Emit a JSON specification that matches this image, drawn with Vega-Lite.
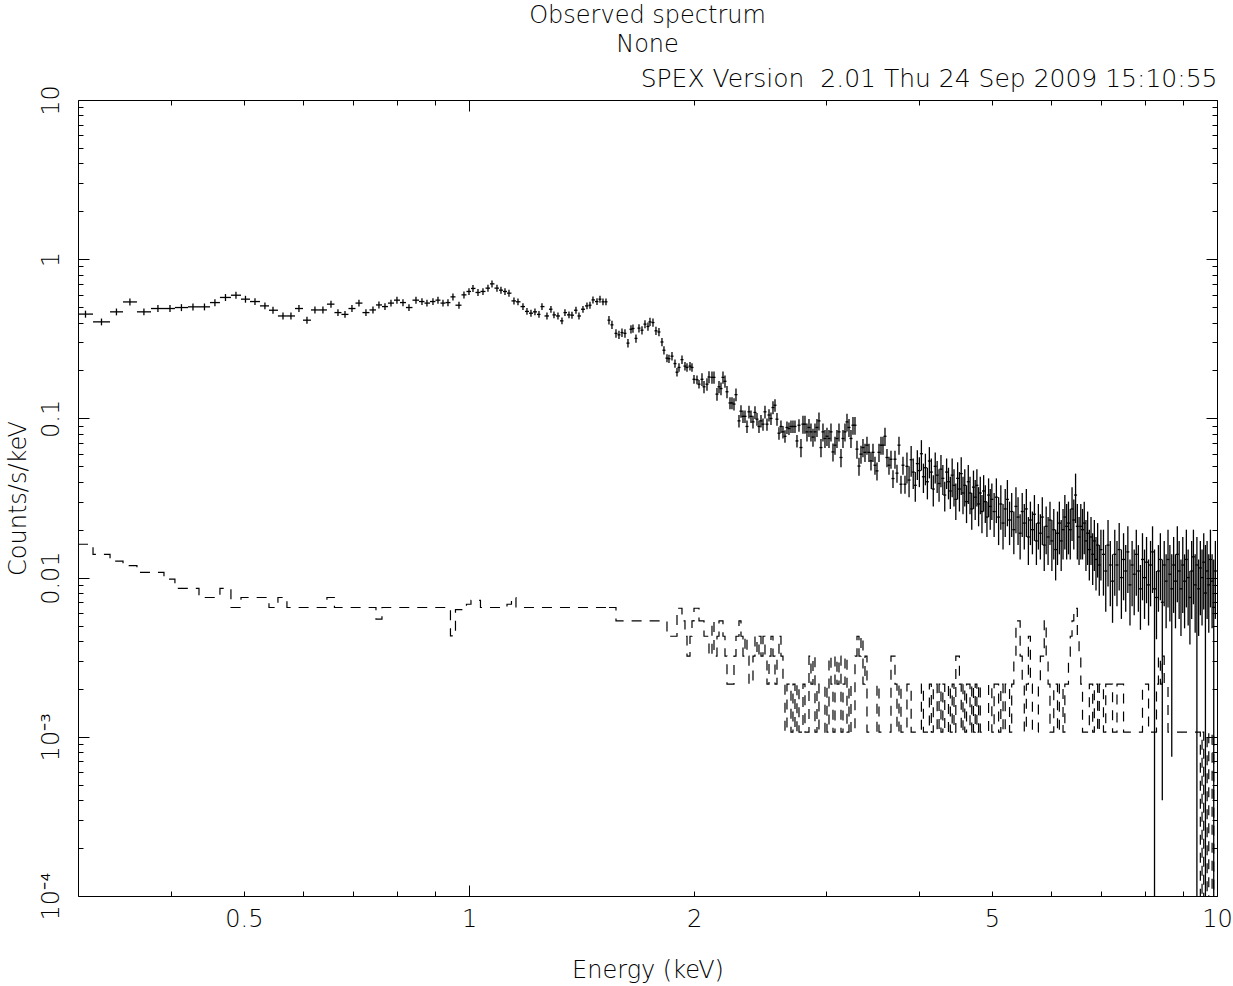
{
"$schema":"https://vega.github.io/schema/vega-lite/v6.json",
"width":1139,"height":796,
"autosize":{"type":"none"},
"padding":{"left":78,"top":100,"right":16,"bottom":90},
"background":"white",
"title":{"text":["Observed spectrum","None"],"anchor":"middle","font":"DejaVu Sans","fontSize":24,"fontWeight":200,"color":"black","lineHeight":29,"offset":10},
"datasets":{
"wide":[
{"e":0.307,"e0":0.3,"e1":0.3142,"c":0.452,"l":0.429,"h":0.475},
{"e":0.3225,"e0":0.3142,"e1":0.3311,"c":0.404,"l":0.384,"h":0.424},
{"e":0.3377,"e0":0.3311,"e1":0.3446,"c":0.467,"l":0.444,"h":0.49},
{"e":0.352,"e0":0.3446,"e1":0.3597,"c":0.539,"l":0.512,"h":0.566},
{"e":0.3675,"e0":0.3597,"e1":0.3756,"c":0.467,"l":0.444,"h":0.49},
{"e":0.3837,"e0":0.3756,"e1":0.3909,"c":0.49,"l":0.466,"h":0.515},
{"e":0.3982,"e0":0.3909,"e1":0.4043,"c":0.49,"l":0.466,"h":0.515},
{"e":0.4125,"e0":0.4043,"e1":0.4209,"c":0.497,"l":0.472,"h":0.522},
{"e":0.4274,"e0":0.4209,"e1":0.4354,"c":0.502,"l":0.477,"h":0.527},
{"e":0.4428,"e0":0.4354,"e1":0.4504,"c":0.502,"l":0.477,"h":0.527},
{"e":0.4573,"e0":0.4504,"e1":0.4644,"c":0.534,"l":0.507,"h":0.561},
{"e":0.4724,"e0":0.4644,"e1":0.4804,"c":0.575,"l":0.546,"h":0.604},
{"e":0.4879,"e0":0.4804,"e1":0.4955,"c":0.594,"l":0.564,"h":0.624},
{"e":0.5024,"e0":0.4955,"e1":0.5094,"c":0.561,"l":0.533,"h":0.589},
{"e":0.5173,"e0":0.5094,"e1":0.5253,"c":0.542,"l":0.515,"h":0.569},
{"e":0.5334,"e0":0.5253,"e1":0.5401,"c":0.509,"l":0.484,"h":0.534},
{"e":0.5468,"e0":0.5401,"e1":0.5552,"c":0.478,"l":0.454,"h":0.502},
{"e":0.5639,"e0":0.5552,"e1":0.5708,"c":0.44,"l":0.418,"h":0.462},
{"e":0.5779,"e0":0.5708,"e1":0.5851,"c":0.44,"l":0.418,"h":0.462},
{"e":0.5923,"e0":0.5851,"e1":0.5997,"c":0.49,"l":0.466,"h":0.515},
{"e":0.6071,"e0":0.5997,"e1":0.6146,"c":0.414,"l":0.393,"h":0.435},
{"e":0.6222,"e0":0.6146,"e1":0.6299,"c":0.48,"l":0.456,"h":0.504},
{"e":0.6377,"e0":0.6299,"e1":0.6456,"c":0.48,"l":0.456,"h":0.504},
{"e":0.6537,"e0":0.6456,"e1":0.6607,"c":0.522,"l":0.496,"h":0.548},
{"e":0.6679,"e0":0.6607,"e1":0.6751,"c":0.462,"l":0.439,"h":0.485},
{"e":0.6825,"e0":0.6751,"e1":0.6898,"c":0.45,"l":0.428,"h":0.473},
{"e":0.6973,"e0":0.6898,"e1":0.7049,"c":0.49,"l":0.466,"h":0.515},
{"e":0.7125,"e0":0.7049,"e1":0.7202,"c":0.53,"l":0.504,"h":0.557},
{"e":0.728,"e0":0.7202,"e1":0.7359,"c":0.462,"l":0.439,"h":0.485},
{"e":0.7439,"e0":0.7359,"e1":0.7508,"c":0.48,"l":0.456,"h":0.504},
{"e":0.7577,"e0":0.7508,"e1":0.7648,"c":0.516,"l":0.49,"h":0.542},
{"e":0.7719,"e0":0.7648,"e1":0.779,"c":0.504,"l":0.479,"h":0.529},
{"e":0.7863,"e0":0.779,"e1":0.7936,"c":0.53,"l":0.504,"h":0.557},
{"e":0.8009,"e0":0.7936,"e1":0.8084,"c":0.553,"l":0.525,"h":0.581},
{"e":0.8159,"e0":0.8084,"e1":0.8234,"c":0.534,"l":0.507,"h":0.561},
{"e":0.8311,"e0":0.8234,"e1":0.8401,"c":0.497,"l":0.472,"h":0.522},
{"e":0.8492,"e0":0.8401,"e1":0.8571,"c":0.553,"l":0.525,"h":0.581},
{"e":0.865,"e0":0.8571,"e1":0.8717,"c":0.542,"l":0.515,"h":0.569},
{"e":0.8784,"e0":0.8717,"e1":0.8866,"c":0.53,"l":0.504,"h":0.557},
{"e":0.8948,"e0":0.8866,"e1":0.9017,"c":0.542,"l":0.515,"h":0.569},
{"e":0.9087,"e0":0.9017,"e1":0.9157,"c":0.553,"l":0.525,"h":0.581},
{"e":0.9228,"e0":0.9157,"e1":0.9299,"c":0.53,"l":0.504,"h":0.557},
{"e":0.9371,"e0":0.9299,"e1":0.9443,"c":0.534,"l":0.507,"h":0.561},
{"e":0.9516,"e0":0.9443,"e1":0.959,"c":0.58,"l":0.551,"h":0.609},
{"e":0.9694,"e0":0.959,"e1":0.9769,"c":0.514,"l":0.488,"h":0.54},
{"e":0.9844,"e0":0.9769,"e1":0.992,"c":0.597,"l":0.567,"h":0.627},
{"e":0.9997,"e0":0.992,"e1":1.0059,"c":0.627,"l":0.596,"h":0.658},
{"e":1.0121,"e0":1.0059,"e1":1.0199,"c":0.655,"l":0.622,"h":0.688},
{"e":1.0278,"e0":1.0199,"e1":1.0357,"c":0.618,"l":0.587,"h":0.649},
{"e":1.0437,"e0":1.0357,"e1":1.0518,"c":0.627,"l":0.596,"h":0.658},
{"e":1.0599,"e0":1.0518,"e1":1.0665,"c":0.658,"l":0.625,"h":0.691},
{"e":1.0731,"e0":1.0665,"e1":1.0813,"c":0.7,"l":0.665,"h":0.735},
{"e":1.0897,"e0":1.0813,"e1":1.0964,"c":0.658,"l":0.625,"h":0.691},
{"e":1.1032,"e0":1.0964,"e1":1.11,"c":0.639,"l":0.607,"h":0.671},
{"e":1.1169,"e0":1.11,"e1":1.1238,"c":0.627,"l":0.596,"h":0.658},
{"e":1.1307,"e0":1.1238,"e1":1.1394,"c":0.612,"l":0.581,"h":0.643},
{"e":1.1482,"e0":1.1394,"e1":1.1553,"c":0.547,"l":0.52,"h":0.574},
{"e":1.1625,"e0":1.1553,"e1":1.1715,"c":0.54,"l":0.513,"h":0.567},
{"e":1.1805,"e0":1.1715,"e1":1.1878,"c":0.504,"l":0.479,"h":0.529},
{"e":1.1951,"e0":1.1878,"e1":1.2025,"c":0.47,"l":0.447,"h":0.494},
{"e":1.2099,"e0":1.2025,"e1":1.2174,"c":0.458,"l":0.435,"h":0.481},
{"e":1.2249,"e0":1.2174,"e1":1.2325,"c":0.467,"l":0.444,"h":0.49},
{"e":1.2401,"e0":1.2325,"e1":1.2458,"c":0.45,"l":0.428,"h":0.473},
{"e":1.2516,"e0":1.2458,"e1":1.2613,"c":0.504,"l":0.479,"h":0.529},
{"e":1.271,"e0":1.2613,"e1":1.2788,"c":0.44,"l":0.418,"h":0.462},
{"e":1.2867,"e0":1.2788,"e1":1.2927,"c":0.485,"l":0.461,"h":0.509},
{"e":1.2987,"e0":1.2927,"e1":1.3067,"c":0.447,"l":0.425,"h":0.469},
{"e":1.3148,"e0":1.3067,"e1":1.3229,"c":0.44,"l":0.418,"h":0.462},
{"e":1.3311,"e0":1.3229,"e1":1.3372,"c":0.41,"l":0.39,"h":0.431},
{"e":1.3434,"e0":1.3372,"e1":1.3517,"c":0.462,"l":0.439,"h":0.485},
{"e":1.3601,"e0":1.3517,"e1":1.3664,"c":0.447,"l":0.425,"h":0.469},
{"e":1.3727,"e0":1.3664,"e1":1.3812,"c":0.445,"l":0.423,"h":0.467},
{"e":1.3897,"e0":1.3812,"e1":1.3961,"c":0.478,"l":0.454,"h":0.502},
{"e":1.4026,"e0":1.3961,"e1":1.4113,"c":0.44,"l":0.418,"h":0.462},
{"e":1.42,"e0":1.4113,"e1":1.4288,"c":0.485,"l":0.461,"h":0.509},
{"e":1.4376,"e0":1.4288,"e1":1.4443,"c":0.509,"l":0.484,"h":0.534},
{"e":1.4509,"e0":1.4443,"e1":1.4577,"c":0.514,"l":0.488,"h":0.54},
{"e":1.4644,"e0":1.4577,"e1":1.4735,"c":0.555,"l":0.527,"h":0.583},
{"e":1.4826,"e0":1.4735,"e1":1.4894,"c":0.542,"l":0.515,"h":0.569},
{"e":1.4963,"e0":1.4894,"e1":1.5032,"c":0.561,"l":0.533,"h":0.589},
{"e":1.5102,"e0":1.5032,"e1":1.5172,"c":0.54,"l":0.513,"h":0.567},
{"e":1.5242,"e0":1.5172,"e1":1.5313,"c":0.54,"l":0.513,"h":0.567}
],
"bkg1":[
{"e":0.3,"b":0.0162},{"e":0.3142,"b":0.014},{"e":0.3311,"b":0.0127},{"e":0.3446,"b":0.0119},{"e":0.3597,"b":0.0108},{"e":0.3909,"b":0.00977},{"e":0.4043,"b":0.00855},{"e":0.4354,"b":0.0075},{"e":0.4644,"b":0.00855},{"e":0.4804,"b":0.00649},{"e":0.4955,"b":0.0075},{"e":0.5401,"b":0.00649},{"e":0.5552,"b":0.0075},{"e":0.5708,"b":0.00649},{"e":0.6456,"b":0.0075},{"e":0.6607,"b":0.00649},{"e":0.7508,"b":0.00548},{"e":0.7648,"b":0.00649},{"e":0.9443,"b":0.0043},{"e":0.959,"b":0.0063},{"e":0.992,"b":0.0068},{"e":1.0059,"b":0.0072},{"e":1.0357,"b":0.00649},{"e":1.1238,"b":0.0068},{"e":1.1394,"b":0.0075},{"e":1.1553,"b":0.00649},{"e":1.5383,"b":0.00649}
],
"narrow":[
{"e":1.5383,"c":0.414,"l":0.389,"h":0.439,"b":0.00649},
{"e":1.5526,"c":0.387,"l":0.364,"h":0.41,"b":0.00649},
{"e":1.5719,"c":0.342,"l":0.321,"h":0.363,"b":0.00535},
{"e":1.5864,"c":0.335,"l":0.315,"h":0.355,"b":0.00535},
{"e":1.6012,"c":0.346,"l":0.325,"h":0.367,"b":0.00535},
{"e":1.616,"c":0.342,"l":0.321,"h":0.363,"b":0.00535},
{"e":1.631,"c":0.297,"l":0.279,"h":0.315,"b":0.00535},
{"e":1.6461,"c":0.363,"l":0.341,"h":0.385,"b":0.00535},
{"e":1.6563,"c":0.367,"l":0.345,"h":0.389,"b":0.00535},
{"e":1.6717,"c":0.318,"l":0.299,"h":0.337,"b":0.00535},
{"e":1.6872,"c":0.369,"l":0.347,"h":0.391,"b":0.00535},
{"e":1.7029,"c":0.358,"l":0.337,"h":0.379,"b":0.00535},
{"e":1.7187,"c":0.391,"l":0.368,"h":0.414,"b":0.00535},
{"e":1.7346,"c":0.378,"l":0.355,"h":0.401,"b":0.00535},
{"e":1.7453,"c":0.404,"l":0.38,"h":0.428,"b":0.00535},
{"e":1.7615,"c":0.4,"l":0.376,"h":0.424,"b":0.00535},
{"e":1.7778,"c":0.355,"l":0.334,"h":0.376,"b":0.00535},
{"e":1.7943,"c":0.349,"l":0.328,"h":0.37,"b":0.00535},
{"e":1.811,"c":0.302,"l":0.284,"h":0.32,"b":0.00535},
{"e":1.8221,"c":0.268,"l":0.252,"h":0.284,"b":0.00535},
{"e":1.8391,"c":0.239,"l":0.225,"h":0.253,"b":0.00428},
{"e":1.8504,"c":0.237,"l":0.223,"h":0.251,"b":0.00428},
{"e":1.8677,"c":0.246,"l":0.231,"h":0.261,"b":0.00428},
{"e":1.885,"c":0.221,"l":0.208,"h":0.234,"b":0.00428},
{"e":1.8967,"c":0.195,"l":0.183,"h":0.207,"b":0.00642},
{"e":1.9084,"c":0.209,"l":0.196,"h":0.222,"b":0.00642},
{"e":1.9261,"c":0.234,"l":0.22,"h":0.248,"b":0.00535},
{"e":1.9439,"c":0.213,"l":0.2,"h":0.226,"b":0.00428},
{"e":1.956,"c":0.209,"l":0.196,"h":0.222,"b":0.00321},
{"e":1.9741,"c":0.213,"l":0.2,"h":0.226,"b":0.00428},
{"e":1.9863,"c":0.209,"l":0.196,"h":0.222,"b":0.00535},
{"e":1.9986,"c":0.176,"l":0.165,"h":0.187,"b":0.00642},
{"e":2.0171,"c":0.175,"l":0.164,"h":0.186,"b":0.00642},
{"e":2.0296,"c":0.164,"l":0.154,"h":0.174,"b":0.00535},
{"e":2.0484,"c":0.176,"l":0.16,"h":0.192,"b":0.00535},
{"e":2.0611,"c":0.158,"l":0.144,"h":0.172,"b":0.00428},
{"e":2.0802,"c":0.164,"l":0.149,"h":0.179,"b":0.00428},
{"e":2.093,"c":0.182,"l":0.166,"h":0.198,"b":0.00321},
{"e":2.1124,"c":0.181,"l":0.165,"h":0.197,"b":0.00535},
{"e":2.1255,"c":0.181,"l":0.165,"h":0.197,"b":0.00321},
{"e":2.1452,"c":0.142,"l":0.129,"h":0.155,"b":0.00428},
{"e":2.1585,"c":0.158,"l":0.144,"h":0.172,"b":0.00535},
{"e":2.1718,"c":0.154,"l":0.14,"h":0.168,"b":0.00535},
{"e":2.1852,"c":0.181,"l":0.165,"h":0.197,"b":0.00428},
{"e":2.1987,"c":0.171,"l":0.156,"h":0.186,"b":0.00321},
{"e":2.2123,"c":0.147,"l":0.134,"h":0.16,"b":0.00214},
{"e":2.2328,"c":0.125,"l":0.114,"h":0.136,"b":0.00214},
{"e":2.2466,"c":0.125,"l":0.114,"h":0.136,"b":0.00214},
{"e":2.2605,"c":0.123,"l":0.112,"h":0.134,"b":0.00321},
{"e":2.2744,"c":0.141,"l":0.128,"h":0.154,"b":0.00428},
{"e":2.2955,"c":0.0965,"l":0.0878,"h":0.105,"b":0.00535},
{"e":2.3097,"c":0.111,"l":0.101,"h":0.121,"b":0.00428},
{"e":2.324,"c":0.103,"l":0.0937,"h":0.112,"b":0.00321},
{"e":2.3384,"c":0.103,"l":0.0937,"h":0.112,"b":0.00428},
{"e":2.3528,"c":0.089,"l":0.081,"h":0.097,"b":0.00321},
{"e":2.3673,"c":0.11,"l":0.1,"h":0.12,"b":0.00214},
{"e":2.3819,"c":0.103,"l":0.0937,"h":0.112,"b":0.00214},
{"e":2.3966,"c":0.0951,"l":0.0865,"h":0.104,"b":0.00321},
{"e":2.4114,"c":0.109,"l":0.0992,"h":0.119,"b":0.00428},
{"e":2.4263,"c":0.0989,"l":0.09,"h":0.108,"b":0.00321},
{"e":2.4413,"c":0.089,"l":0.081,"h":0.097,"b":0.00428},
{"e":2.4564,"c":0.0965,"l":0.0878,"h":0.105,"b":0.00321},
{"e":2.4716,"c":0.092,"l":0.0837,"h":0.1,"b":0.00428},
{"e":2.4868,"c":0.11,"l":0.1,"h":0.12,"b":0.00321},
{"e":2.5022,"c":0.092,"l":0.0837,"h":0.1,"b":0.00214},
{"e":2.5177,"c":0.105,"l":0.0956,"h":0.114,"b":0.00321},
{"e":2.5332,"c":0.0999,"l":0.0909,"h":0.109,"b":0.00428},
{"e":2.5488,"c":0.117,"l":0.106,"h":0.128,"b":0.00321},
{"e":2.5646,"c":0.121,"l":0.11,"h":0.132,"b":0.00214},
{"e":2.5804,"c":0.0989,"l":0.09,"h":0.108,"b":0.00321},
{"e":2.5963,"c":0.0807,"l":0.0734,"h":0.088,"b":0.00428},
{"e":2.6123,"c":0.089,"l":0.081,"h":0.097,"b":0.00321},
{"e":2.6284,"c":0.0823,"l":0.0749,"h":0.0897,"b":0.00214},
{"e":2.6447,"c":0.0772,"l":0.0703,"h":0.0841,"b":0.00107},
{"e":2.661,"c":0.0877,"l":0.0798,"h":0.0956,"b":0.00214},
{"e":2.6774,"c":0.0864,"l":0.0786,"h":0.0942,"b":0.00214},
{"e":2.694,"c":0.089,"l":0.081,"h":0.097,"b":0.00107},
{"e":2.7106,"c":0.089,"l":0.081,"h":0.097,"b":0.00214},
{"e":2.7274,"c":0.089,"l":0.081,"h":0.097,"b":0.00107},
{"e":2.7442,"c":0.0722,"l":0.0657,"h":0.0787,"b":0.00214},
{"e":2.7612,"c":0.0906,"l":0.0824,"h":0.0988,"b":0.00107},
{"e":2.7782,"c":0.0656,"l":0.0571,"h":0.0741,"b":0.00107},
{"e":2.7954,"c":0.092,"l":0.08,"h":0.104,"b":0.00214},
{"e":2.8126,"c":0.092,"l":0.08,"h":0.104,"b":0.00107},
{"e":2.83,"c":0.0823,"l":0.0716,"h":0.093,"b":0.00107},
{"e":2.8475,"c":0.0877,"l":0.0763,"h":0.0991,"b":0.00321},
{"e":2.865,"c":0.0823,"l":0.0716,"h":0.093,"b":0.00214},
{"e":2.8828,"c":0.0763,"l":0.0664,"h":0.0862,"b":0.00321},
{"e":2.9006,"c":0.0823,"l":0.0716,"h":0.093,"b":0.00107},
{"e":2.9185,"c":0.0877,"l":0.0763,"h":0.0991,"b":0.00214},
{"e":2.9365,"c":0.0965,"l":0.084,"h":0.109,"b":0.00107},
{"e":2.9546,"c":0.0656,"l":0.0571,"h":0.0741,"b":0.00107},
{"e":2.9729,"c":0.0823,"l":0.0716,"h":0.093,"b":0.00107},
{"e":2.9912,"c":0.0748,"l":0.0651,"h":0.0845,"b":0.00214},
{"e":3.0097,"c":0.0772,"l":0.0672,"h":0.0872,"b":0.00107},
{"e":3.0284,"c":0.0748,"l":0.0651,"h":0.0845,"b":0.00321},
{"e":3.0471,"c":0.0823,"l":0.0716,"h":0.093,"b":0.00214},
{"e":3.0659,"c":0.0616,"l":0.0536,"h":0.0696,"b":0.00107},
{"e":3.0849,"c":0.0679,"l":0.0591,"h":0.0767,"b":0.00321},
{"e":3.1039,"c":0.0748,"l":0.0651,"h":0.0845,"b":0.00214},
{"e":3.1231,"c":0.0823,"l":0.0716,"h":0.093,"b":0.00321},
{"e":3.1424,"c":0.0568,"l":0.0494,"h":0.0642,"b":0.00107},
{"e":3.1618,"c":0.0748,"l":0.0651,"h":0.0845,"b":0.00214},
{"e":3.1814,"c":0.0823,"l":0.0716,"h":0.093,"b":0.00321},
{"e":3.201,"c":0.0951,"l":0.0827,"h":0.107,"b":0.00107},
{"e":3.2208,"c":0.0877,"l":0.0763,"h":0.0991,"b":0.00214},
{"e":3.2406,"c":0.0748,"l":0.0651,"h":0.0845,"b":0.00107},
{"e":3.2606,"c":0.0906,"l":0.0788,"h":0.102,"b":0.00107},
{"e":3.2808,"c":0.0906,"l":0.0788,"h":0.102,"b":0.00321},
{"e":3.301,"c":0.0641,"l":0.0558,"h":0.0724,"b":0.00428},
{"e":3.3214,"c":0.0502,"l":0.0437,"h":0.0567,"b":0.00321},
{"e":3.3419,"c":0.0596,"l":0.0519,"h":0.0673,"b":0.00428},
{"e":3.3625,"c":0.0656,"l":0.0571,"h":0.0741,"b":0.00214},
{"e":3.3833,"c":0.0612,"l":0.0532,"h":0.0692,"b":0.00321},
{"e":3.4042,"c":0.0679,"l":0.0591,"h":0.0767,"b":0.00107},
{"e":3.4253,"c":0.0612,"l":0.0532,"h":0.0692,"b":0.00107},
{"e":3.4464,"c":0.0541,"l":0.0471,"h":0.0611,"b":0.00107},
{"e":3.4677,"c":0.0612,"l":0.0532,"h":0.0692,"b":0.00107},
{"e":3.4891,"c":0.0508,"l":0.0442,"h":0.0574,"b":0.00107},
{"e":3.5107,"c":0.0468,"l":0.0407,"h":0.0529,"b":0.00214},
{"e":3.5324,"c":0.0612,"l":0.0532,"h":0.0692,"b":0.00107},
{"e":3.5542,"c":0.0679,"l":0.0591,"h":0.0767,"b":0.00107},
{"e":3.5761,"c":0.0679,"l":0.0591,"h":0.0767,"b":0.00107},
{"e":3.5982,"c":0.0772,"l":0.0672,"h":0.0872,"b":0.00107},
{"e":3.6204,"c":0.0568,"l":0.0494,"h":0.0642,"b":0.00107},
{"e":3.6428,"c":0.0508,"l":0.0442,"h":0.0574,"b":0.00107},
{"e":3.6653,"c":0.0554,"l":0.0482,"h":0.0626,"b":0.00321},
{"e":3.6879,"c":0.0419,"l":0.0365,"h":0.0473,"b":0.00321},
{"e":3.7107,"c":0.0554,"l":0.0482,"h":0.0626,"b":0.00214},
{"e":3.7336,"c":0.0453,"l":0.0394,"h":0.0512,"b":0.00107},
{"e":3.7567,"c":0.0679,"l":0.0591,"h":0.0767,"b":0.00214},
{"e":3.7799,"c":0.0386,"l":0.0336,"h":0.0436,"b":0.00107},
{"e":3.8032,"c":0.0508,"l":0.0442,"h":0.0574,"b":0.00107},
{"e":3.8267,"c":0.0386,"l":0.0336,"h":0.0436,"b":0.00107},
{"e":3.85,"c":0.05,"l":0.039,"h":0.061,"b":0.00214},
{"e":3.875,"c":0.041,"l":0.032,"h":0.05,"b":0.00214},
{"e":3.9,"c":0.055,"l":0.043,"h":0.067,"b":0.00107},
{"e":3.925,"c":0.046,"l":0.036,"h":0.056,"b":0.00107},
{"e":3.95,"c":0.038,"l":0.03,"h":0.046,"b":0.00107},
{"e":3.975,"c":0.052,"l":0.041,"h":0.063,"b":0.00107},
{"e":4.0,"c":0.047,"l":0.037,"h":0.057,"b":0.00107},
{"e":4.025,"c":0.06,"l":0.047,"h":0.073,"b":0.00214},
{"e":4.05,"c":0.043,"l":0.034,"h":0.052,"b":0.00107},
{"e":4.075,"c":0.049,"l":0.038,"h":0.06,"b":0.00107},
{"e":4.1,"c":0.04,"l":0.031,"h":0.049,"b":0.00107},
{"e":4.125,"c":0.054,"l":0.042,"h":0.066,"b":0.00214},
{"e":4.15,"c":0.046,"l":0.036,"h":0.056,"b":0.00107},
{"e":4.175,"c":0.036,"l":0.028,"h":0.044,"b":0.00214},
{"e":4.2,"c":0.05,"l":0.039,"h":0.061,"b":0.00214},
{"e":4.225,"c":0.044,"l":0.034,"h":0.054,"b":0.00107},
{"e":4.25,"c":0.039,"l":0.03,"h":0.048,"b":0.00214},
{"e":4.275,"c":0.048,"l":0.037,"h":0.059,"b":0.00107},
{"e":4.3,"c":0.042,"l":0.033,"h":0.051,"b":0.00214},
{"e":4.325,"c":0.033,"l":0.026,"h":0.04,"b":0.00107},
{"e":4.35,"c":0.046,"l":0.036,"h":0.056,"b":0.00107},
{"e":4.375,"c":0.04,"l":0.031,"h":0.049,"b":0.00214},
{"e":4.4,"c":0.035,"l":0.027,"h":0.043,"b":0.00107},
{"e":4.425,"c":0.044,"l":0.032,"h":0.056,"b":0.00214},
{"e":4.45,"c":0.038,"l":0.028,"h":0.048,"b":0.00107},
{"e":4.475,"c":0.031,"l":0.023,"h":0.039,"b":0.00321},
{"e":4.5,"c":0.042,"l":0.031,"h":0.053,"b":0.00321},
{"e":4.525,"c":0.036,"l":0.026,"h":0.046,"b":0.00214},
{"e":4.55,"c":0.045,"l":0.033,"h":0.057,"b":0.00107},
{"e":4.575,"c":0.034,"l":0.025,"h":0.043,"b":0.00214},
{"e":4.6,"c":0.038,"l":0.028,"h":0.048,"b":0.00107},
{"e":4.625,"c":0.03,"l":0.022,"h":0.038,"b":0.00214},
{"e":4.65,"c":0.04,"l":0.029,"h":0.051,"b":0.00214},
{"e":4.675,"c":0.034,"l":0.025,"h":0.043,"b":0.00107},
{"e":4.7,"c":0.027,"l":0.02,"h":0.034,"b":0.00214},
{"e":4.725,"c":0.037,"l":0.027,"h":0.047,"b":0.00107},
{"e":4.75,"c":0.032,"l":0.023,"h":0.041,"b":0.00214},
{"e":4.775,"c":0.038,"l":0.028,"h":0.048,"b":0.00107},
{"e":4.8,"c":0.029,"l":0.021,"h":0.037,"b":0.00214},
{"e":4.825,"c":0.034,"l":0.025,"h":0.043,"b":0.00107},
{"e":4.85,"c":0.026,"l":0.019,"h":0.033,"b":0.00107},
{"e":4.875,"c":0.035,"l":0.026,"h":0.044,"b":0.00107},
{"e":4.9,"c":0.03,"l":0.022,"h":0.038,"b":0.00107},
{"e":4.925,"c":0.024,"l":0.018,"h":0.03,"b":0.00107},
{"e":4.95,"c":0.033,"l":0.024,"h":0.042,"b":0.00214},
{"e":4.975,"c":0.028,"l":0.02,"h":0.036,"b":0.00214},
{"e":5.0,"c":0.031,"l":0.023,"h":0.039,"b":0.00107},
{"e":5.035,"c":0.026,"l":0.018,"h":0.034,"b":0.00214},
{"e":5.07,"c":0.032,"l":0.022,"h":0.042,"b":0.00214},
{"e":5.105,"c":0.024,"l":0.016,"h":0.032,"b":0.00107},
{"e":5.14,"c":0.029,"l":0.02,"h":0.038,"b":0.00214},
{"e":5.175,"c":0.022,"l":0.015,"h":0.029,"b":0.00107},
{"e":5.21,"c":0.027,"l":0.018,"h":0.036,"b":0.00214},
{"e":5.245,"c":0.031,"l":0.021,"h":0.041,"b":0.00214},
{"e":5.28,"c":0.023,"l":0.016,"h":0.03,"b":0.00107},
{"e":5.315,"c":0.026,"l":0.018,"h":0.034,"b":0.00214},
{"e":5.35,"c":0.02,"l":0.014,"h":0.026,"b":0.00321},
{"e":5.385,"c":0.028,"l":0.019,"h":0.037,"b":0.00535},
{"e":5.42,"c":0.024,"l":0.016,"h":0.032,"b":0.00535},
{"e":5.455,"c":0.019,"l":0.013,"h":0.025,"b":0.00321},
{"e":5.49,"c":0.026,"l":0.018,"h":0.034,"b":0.00214},
{"e":5.525,"c":0.022,"l":0.015,"h":0.029,"b":0.00107},
{"e":5.56,"c":0.027,"l":0.018,"h":0.036,"b":0.00214},
{"e":5.595,"c":0.018,"l":0.012,"h":0.024,"b":0.00428},
{"e":5.63,"c":0.023,"l":0.016,"h":0.03,"b":0.00214},
{"e":5.665,"c":0.02,"l":0.014,"h":0.026,"b":0.00107},
{"e":5.7,"c":0.025,"l":0.017,"h":0.033,"b":0.00107},
{"e":5.735,"c":0.017,"l":0.012,"h":0.022,"b":0.00107},
{"e":5.77,"c":0.022,"l":0.015,"h":0.029,"b":0.00214},
{"e":5.805,"c":0.019,"l":0.013,"h":0.025,"b":0.00321},
{"e":5.84,"c":0.024,"l":0.016,"h":0.032,"b":0.00321},
{"e":5.875,"c":0.016,"l":0.011,"h":0.021,"b":0.00535},
{"e":5.91,"c":0.021,"l":0.014,"h":0.028,"b":0.00321},
{"e":5.945,"c":0.018,"l":0.012,"h":0.024,"b":0.00214},
{"e":5.98,"c":0.023,"l":0.016,"h":0.03,"b":0.00107},
{"e":6.015,"c":0.017,"l":0.011,"h":0.023,"b":0.00107},
{"e":6.05,"c":0.02,"l":0.013,"h":0.027,"b":0.00214},
{"e":6.085,"c":0.015,"l":0.0096,"h":0.02,"b":0.00214},
{"e":6.12,"c":0.019,"l":0.012,"h":0.026,"b":0.00107},
{"e":6.155,"c":0.022,"l":0.014,"h":0.03,"b":0.00214},
{"e":6.19,"c":0.017,"l":0.011,"h":0.023,"b":0.00214},
{"e":6.225,"c":0.02,"l":0.013,"h":0.027,"b":0.00107},
{"e":6.26,"c":0.024,"l":0.015,"h":0.033,"b":0.00214},
{"e":6.295,"c":0.021,"l":0.013,"h":0.029,"b":0.00214},
{"e":6.33,"c":0.022,"l":0.014,"h":0.03,"b":0.00321},
{"e":6.365,"c":0.02,"l":0.013,"h":0.027,"b":0.00428},
{"e":6.4,"c":0.027,"l":0.017,"h":0.037,"b":0.00535},
{"e":6.435,"c":0.023,"l":0.015,"h":0.031,"b":0.00642},
{"e":6.47,"c":0.033,"l":0.022,"h":0.045,"b":0.00642},
{"e":6.505,"c":0.021,"l":0.013,"h":0.029,"b":0.00428},
{"e":6.54,"c":0.018,"l":0.012,"h":0.024,"b":0.00321},
{"e":6.575,"c":0.021,"l":0.013,"h":0.029,"b":0.00214},
{"e":6.61,"c":0.02,"l":0.013,"h":0.027,"b":0.00107},
{"e":6.645,"c":0.022,"l":0.014,"h":0.03,"b":0.00107},
{"e":6.68,"c":0.017,"l":0.011,"h":0.023,"b":0.00107},
{"e":6.715,"c":0.019,"l":0.012,"h":0.026,"b":0.00107},
{"e":6.75,"c":0.015,"l":0.0096,"h":0.02,"b":0.00214},
{"e":6.785,"c":0.018,"l":0.012,"h":0.024,"b":0.00214},
{"e":6.82,"c":0.014,"l":0.009,"h":0.019,"b":0.00107},
{"e":6.855,"c":0.017,"l":0.011,"h":0.023,"b":0.00214},
{"e":6.89,"c":0.013,"l":0.0083,"h":0.018,"b":0.00214},
{"e":6.925,"c":0.016,"l":0.01,"h":0.022,"b":0.00107},
{"e":6.96,"c":0.012,"l":0.0077,"h":0.016,"b":0.00214},
{"e":6.995,"c":0.015,"l":0.0096,"h":0.02,"b":0.00214},
{"e":7.05,"c":0.014,"l":0.0077,"h":0.02,"b":0.00107},
{"e":7.1,"c":0.011,"l":0.0061,"h":0.016,"b":0.00214},
{"e":7.15,"c":0.016,"l":0.0088,"h":0.023,"b":0.00214},
{"e":7.2,"c":0.012,"l":0.0066,"h":0.017,"b":0.00214},
{"e":7.25,"c":0.0095,"l":0.0052,"h":0.014,"b":0.00107},
{"e":7.3,"c":0.014,"l":0.0077,"h":0.02,"b":0.00107},
{"e":7.35,"c":0.012,"l":0.0066,"h":0.017,"b":0.00214},
{"e":7.4,"c":0.015,"l":0.0083,"h":0.022,"b":0.00214},
{"e":7.45,"c":0.01,"l":0.0055,"h":0.015,"b":0.00214},
{"e":7.5,"c":0.013,"l":0.0072,"h":0.019,"b":0.00107},
{"e":7.55,"c":0.011,"l":0.0061,"h":0.016,"b":0.00107},
{"e":7.6,"c":0.0145,"l":0.008,"h":0.021,"b":0.00107},
{"e":7.65,"c":0.009,"l":0.005,"h":0.013,"b":0.00107},
{"e":7.7,"c":0.012,"l":0.0066,"h":0.017,"b":0.00107},
{"e":7.75,"c":0.0105,"l":0.0058,"h":0.015,"b":0.00107},
{"e":7.8,"c":0.014,"l":0.0077,"h":0.02,"b":0.00107},
{"e":7.85,"c":0.011,"l":0.0061,"h":0.016,"b":0.00107},
{"e":7.9,"c":0.0085,"l":0.0047,"h":0.012,"b":0.00107},
{"e":7.95,"c":0.013,"l":0.0072,"h":0.019,"b":0.00214},
{"e":8.0,"c":0.01,"l":0.0055,"h":0.015,"b":0.00214},
{"e":8.05,"c":0.0125,"l":0.0069,"h":0.018,"b":0.00214},
{"e":8.1,"c":0.009,"l":0.005,"h":0.013,"b":0.00107},
{"e":8.15,"c":0.012,"l":0.0066,"h":0.017,"b":0.00107},
{"e":8.2,"c":0.0145,"l":0.008,"h":0.021,"b":0.00107},
{"e":8.25,"c":0.0085,"l":0.000001,"h":0.015,"b":0.00107},
{"e":8.3,"c":0.0075,"l":0.0041,"h":0.011,"b":0.00214},
{"e":8.35,"c":0.011,"l":0.0061,"h":0.016,"b":0.00321},
{"e":8.4,"c":0.013,"l":0.0072,"h":0.019,"b":0.00214},
{"e":8.45,"c":0.007,"l":0.0004,"h":0.013,"b":0.00321},
{"e":8.5,"c":0.012,"l":0.0066,"h":0.017,"b":0.00214},
{"e":8.55,"c":0.0095,"l":0.0048,"h":0.014,"b":0.00214},
{"e":8.6,"c":0.013,"l":0.0065,"h":0.02,"b":0.00107},
{"e":8.65,"c":0.0105,"l":0.0053,"h":0.016,"b":0.00107},
{"e":8.7,"c":0.0085,"l":0.00075,"h":0.014,"b":0.00107},
{"e":8.75,"c":0.012,"l":0.006,"h":0.018,"b":0.00107},
{"e":8.8,"c":0.0095,"l":0.0048,"h":0.014,"b":0.00107},
{"e":8.85,"c":0.014,"l":0.007,"h":0.021,"b":0.00107},
{"e":8.9,"c":0.011,"l":0.0055,"h":0.017,"b":0.00107},
{"e":8.95,"c":0.0085,"l":0.0043,"h":0.013,"b":0.00107},
{"e":9.0,"c":0.012,"l":0.006,"h":0.018,"b":0.00107},
{"e":9.05,"c":0.0095,"l":0.0048,"h":0.014,"b":0.00107},
{"e":9.1,"c":0.013,"l":0.0065,"h":0.02,"b":0.00107},
{"e":9.15,"c":0.01,"l":0.005,"h":0.015,"b":0.00107},
{"e":9.2,"c":0.0075,"l":0.0038,"h":0.011,"b":0.00107},
{"e":9.25,"c":0.011,"l":0.0055,"h":0.017,"b":0.00107},
{"e":9.3,"c":0.0135,"l":0.0068,"h":0.02,"b":0.00107},
{"e":9.35,"c":0.009,"l":0.0045,"h":0.014,"b":0.00107},
{"e":9.4,"c":0.012,"l":0.000001,"h":0.018,"b":0.00107},
{"e":9.45,"c":0.0085,"l":0.0043,"h":0.013,"b":0.00107},
{"e":9.5,"c":0.0115,"l":0.0058,"h":0.017,"b":0.000001},
{"e":9.55,"c":0.01,"l":0.005,"h":0.015,"b":0.00107},
{"e":9.6,"c":0.0125,"l":0.0063,"h":0.019,"b":0.000001},
{"e":9.65,"c":0.008,"l":0.000001,"h":0.016,"b":0.000001},
{"e":9.7,"c":0.011,"l":0.0055,"h":0.017,"b":0.00107},
{"e":9.75,"c":0.009,"l":0.0045,"h":0.014,"b":0.000001},
{"e":9.8,"c":0.013,"l":0.0065,"h":0.02,"b":0.000001},
{"e":9.85,"c":0.0095,"l":0.0048,"h":0.014,"b":0.00107},
{"e":9.9,"c":0.0065,"l":0.000001,"h":0.013,"b":0.000001},
{"e":9.95,"c":0.011,"l":0.0055,"h":0.017,"b":0.000001}
]
},
"resolve":{"axis":{"x":"independent","y":"independent"}},
"layer":[
{"data":{"name":"wide"},"mark":{"type":"rule","color":"black","strokeWidth":1.3,"clip":true},
 "encoding":{
  "x":{"field":"e0","type":"quantitative","scale":{"type":"log","domain":[0.3,10],"nice":false},
   "axis":{"orient":"bottom","values":[0.5,1,2,5,10],"ticks":false,"labelPadding":11,"labelExpr":"format(datum.value,'~g')","title":"Energy (keV)","titlePadding":27}},
  "x2":{"field":"e1"},
  "y":{"field":"c","type":"quantitative","scale":{"type":"log","domain":[0.0001,10],"nice":false},
   "axis":{"orient":"left","values":[0.0001,0.001,0.01,0.1,1,10],"ticks":false,"labelAngle":270,"labelAlign":"center","labelBaseline":"alphabetic","labelPadding":20,"labelExpr":"datum.value < 0.0005 ? '10\u207b\u2074' : datum.value < 0.005 ? '10\u207b\u00b3' : format(datum.value,'~g')","title":"Counts/s/keV","titlePadding":9}}}},
{"data":{"name":"wide"},"mark":{"type":"rule","color":"black","strokeWidth":1.3,"clip":true},
 "encoding":{
  "x":{"field":"e","type":"quantitative","scale":{"type":"log","domain":[0.3,10],"nice":false},
   "axis":{"orient":"bottom","values":[1,10],"tickSize":-11,"labels":false,"title":null}},
  "y":{"field":"l","type":"quantitative","scale":{"type":"log","domain":[0.0001,10],"nice":false},
   "axis":{"orient":"left","values":[0.0001,0.001,0.01,0.1,1,10],"tickSize":-11,"labels":false,"title":null}},
  "y2":{"field":"h"}}},
{"data":{"name":"narrow"},"mark":{"type":"rule","color":"black","strokeWidth":1.3,"clip":true},
 "encoding":{
  "x":{"field":"e","type":"quantitative","scale":{"type":"log","domain":[0.3,10],"nice":false},
   "axis":{"orient":"bottom","values":[0.4,0.5,0.6,0.7,0.8,0.9,2,3,4,5,6,7,8,9],"tickSize":-5,"labels":false,"title":null}},
  "y":{"field":"l","type":"quantitative","scale":{"type":"log","domain":[0.0001,10],"nice":false},
   "axis":{"orient":"left","values":[0.0002,0.0003,0.0004,0.0005,0.0006,0.0007,0.0008,0.0009,0.002,0.003,0.004,0.005,0.006,0.007,0.008,0.009,0.02,0.03,0.04,0.05,0.06,0.07,0.08,0.09,0.2,0.3,0.4,0.5,0.6,0.7,0.8,0.9,2,3,4,5,6,7,8,9],"tickSize":-5,"labels":false,"title":null}},
  "y2":{"field":"h"}}},
{"data":{"name":"narrow"},"mark":{"type":"tick","orient":"horizontal","size":3,"thickness":1.3,"color":"black","opacity":1,"clip":true},
 "encoding":{
  "x":{"field":"e","type":"quantitative","scale":{"type":"log","domain":[0.3,10],"nice":false},
   "axis":{"orient":"top","values":[1,10],"tickSize":-11,"labels":false,"title":"SPEX Version \u00a02.01 Thu 24 Sep 2009 15:10:55","titleFontSize":25,"titleAnchor":"end","titleAlign":"right","titlePadding":8}},
  "y":{"field":"c","type":"quantitative","scale":{"type":"log","domain":[0.0001,10],"nice":false},
   "axis":{"orient":"right","values":[0.0001,0.001,0.01,0.1,1,10],"tickSize":-11,"labels":false,"title":null}}}},
{"data":{"name":"bkg1"},"mark":{"type":"line","interpolate":"step-after","color":"black","strokeWidth":1.2,"strokeDash":[10,8],"clip":true},
 "encoding":{
  "x":{"field":"e","type":"quantitative","scale":{"type":"log","domain":[0.3,10],"nice":false},
   "axis":{"orient":"top","values":[0.4,0.5,0.6,0.7,0.8,0.9,2,3,4,5,6,7,8,9],"tickSize":-5,"labels":false,"title":null}},
  "y":{"field":"b","type":"quantitative","scale":{"type":"log","domain":[0.0001,10],"nice":false},
   "axis":{"orient":"right","values":[0.0002,0.0003,0.0004,0.0005,0.0006,0.0007,0.0008,0.0009,0.002,0.003,0.004,0.005,0.006,0.007,0.008,0.009,0.02,0.03,0.04,0.05,0.06,0.07,0.08,0.09,0.2,0.3,0.4,0.5,0.6,0.7,0.8,0.9,2,3,4,5,6,7,8,9],"tickSize":-5,"labels":false,"title":null}}}},
{"data":{"name":"narrow"},"mark":{"type":"line","interpolate":"step-after","color":"black","strokeWidth":1.2,"strokeDash":[10,8],"clip":true},
 "encoding":{
  "x":{"field":"e","type":"quantitative","scale":{"type":"log","domain":[0.3,10],"nice":false},"axis":null},
  "y":{"field":"b","type":"quantitative","scale":{"type":"log","domain":[0.0001,10],"nice":false},"axis":null}}}
],
"config":{
 "view":{"stroke":"black","strokeWidth":1,"fill":"white"},
 "axis":{"domain":false,"grid":false,"tickColor":"black","tickWidth":1,"labelColor":"black","titleColor":"black","labelFont":"DejaVu Sans","titleFont":"DejaVu Sans","labelFontSize":24,"titleFontSize":24,"labelFontWeight":200,"titleFontWeight":200,"labelFlush":false,"labelOverlap":false,"labelBound":false}
}
}
